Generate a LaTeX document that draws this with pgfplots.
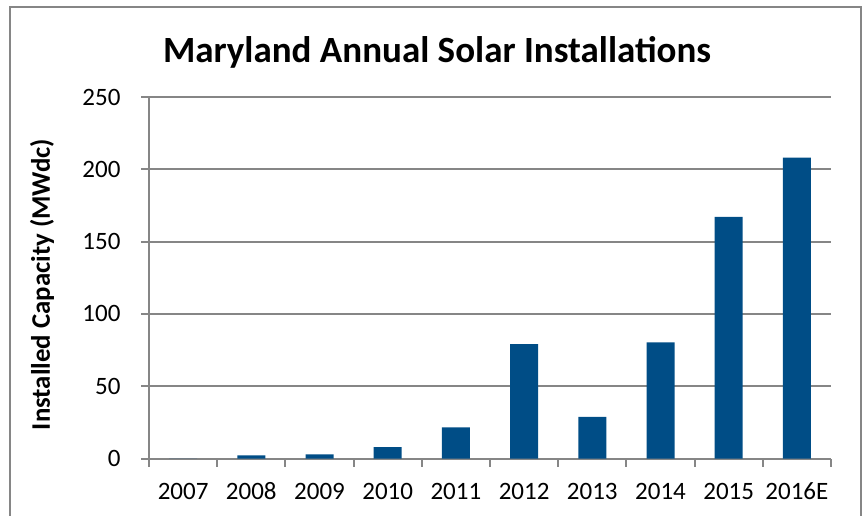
\documentclass[border=0pt]{standalone}
\usepackage{pgfplots}
\pgfplotsset{compat=1.18}
\usepackage{fontspec}
\setmainfont{Carlito}
\definecolor{barblue}{RGB}{0,77,134}
\definecolor{gridgray}{RGB}{134,134,134}
\begin{document}
\begin{tikzpicture}[x=1pt,y=1pt]
\path[use as bounding box] (0,0) rectangle (867,516);
\draw[gridgray, line width=2pt] (10,-5) -- (10,509) -- (861,509) -- (861,-5);
\node[font=\fontsize{37}{40}\selectfont\bfseries] at (437,464) {Maryland Annual Solar Installations};
\begin{axis}[
  at={(149pt,57.4pt)}, anchor=south west,
  scale only axis, width=682pt, height=361.6pt,
  xmin=-0.5, xmax=9.5, ymin=0, ymax=250,
  ytick={0,50,...,250},
  xtick={0,...,9},
  xticklabels={2007,2008,2009,2010,2011,2012,2013,2014,2015,2016E},
  minor xtick={-0.5,0.5,...,9.5},
  axis x line*=bottom, axis y line*=left,
  axis line style={draw=gridgray, line width=2pt, -},
  ymajorgrids, grid style={draw=gridgray, line width=2pt},
  tick style={draw=gridgray, line width=2pt},
  major x tick style={draw=none},
  tick align=outside,
  major tick length=8pt, minor tick length=8pt,
  ticklabel style={font=\fontsize{25}{28}\selectfont},
  yticklabel style={xshift=-17pt},
  xticklabel style={yshift=-12pt, text height=17pt, text depth=0pt},
  /pgf/number format/assume math mode=true,
  ylabel={Installed Capacity (MWdc)},
  every axis y label/.style={at={(-107pt,0.5)}, yshift=-6.7pt, rotate=90, anchor=center, font=\fontsize{26.8}{30}\selectfont\bfseries},
  clip=false,
]
\addplot[ybar, bar width=28pt, fill=barblue, draw=none] coordinates {
(0,0) (1,2.2) (2,3.0) (3,8.0) (4,21.6) (5,79.1) (6,28.9) (7,80.4) (8,167.1) (9,208.1)
};
\end{axis}
\end{tikzpicture}
\end{document}
